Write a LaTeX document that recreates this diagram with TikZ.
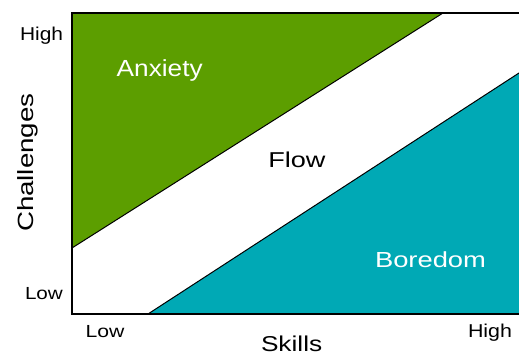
\documentclass[tikz,border=0pt]{standalone}
\usepackage{fontspec}
\setmainfont{Liberation Sans}
\usepackage{graphicx}
\definecolor{anxgreen}{RGB}{92,158,0}
\definecolor{boreteal}{RGB}{0,169,181}
\newcommand{\lbl}[3]{\scalebox{#2}[1]{\fontsize{#1pt}{#1pt}\selectfont #3}}
\begin{document}
\begin{tikzpicture}[x=1pt,y=1pt,
  txt/.style={inner sep=0pt, outer sep=0pt, anchor=base west},
  frame/.style={line width=1.8pt, line cap=rect},
  edge/.style={line width=1pt}]
\useasboundingbox (0,0) rectangle (519,355);
% regions
\coordinate (tl) at (72,342);
\coordinate (tr) at (519,342);
\coordinate (bl) at (72,41);
\coordinate (br) at (519,41);
\coordinate (gtop) at (443,342);
\coordinate (gleft) at (72,107);
\coordinate (tbot) at (148,41);
\coordinate (tright) at (519,282);
\fill[anxgreen] (tl) -- (gtop) -- (gleft) -- cycle;
\fill[boreteal] (tbot) -- (br) -- (tright) -- cycle;
\draw[edge] (gtop) -- (gleft);
\draw[edge] (tbot) -- (tright);
\draw[frame] (tr) -- (tl) -- (bl) -- (br);
% labels
\node[txt, text=white] (anx) at (116.7,278.3) {\lbl{23.3}{1.125}{Anxiety}};
\node[txt] (flow) at (268.3,187.3) {\lbl{21.5}{1.26}{Flow}};
\node[txt, text=white] (bor) at (375,87.7) {\lbl{21.8}{1.255}{Boredom}};
\node[txt] (hy) at (20,314.3) {\lbl{18.6}{1.125}{High}};
\node[txt] (ly) at (25,55.7) {\lbl{17.5}{1.18}{Low}};
\node[txt] (lx) at (85.7,17) {\lbl{17.5}{1.21}{Low}};
\node[txt] (hx) at (468,17) {\lbl{18.6}{1.15}{High}};
\node[txt] (sk) at (261,3.5) {\lbl{21.5}{1.22}{Skills}};
\node[txt, rotate=90] (ch) at (33,123) {\lbl{22}{1.26}{Challenges}};
\end{tikzpicture}
\end{document}
